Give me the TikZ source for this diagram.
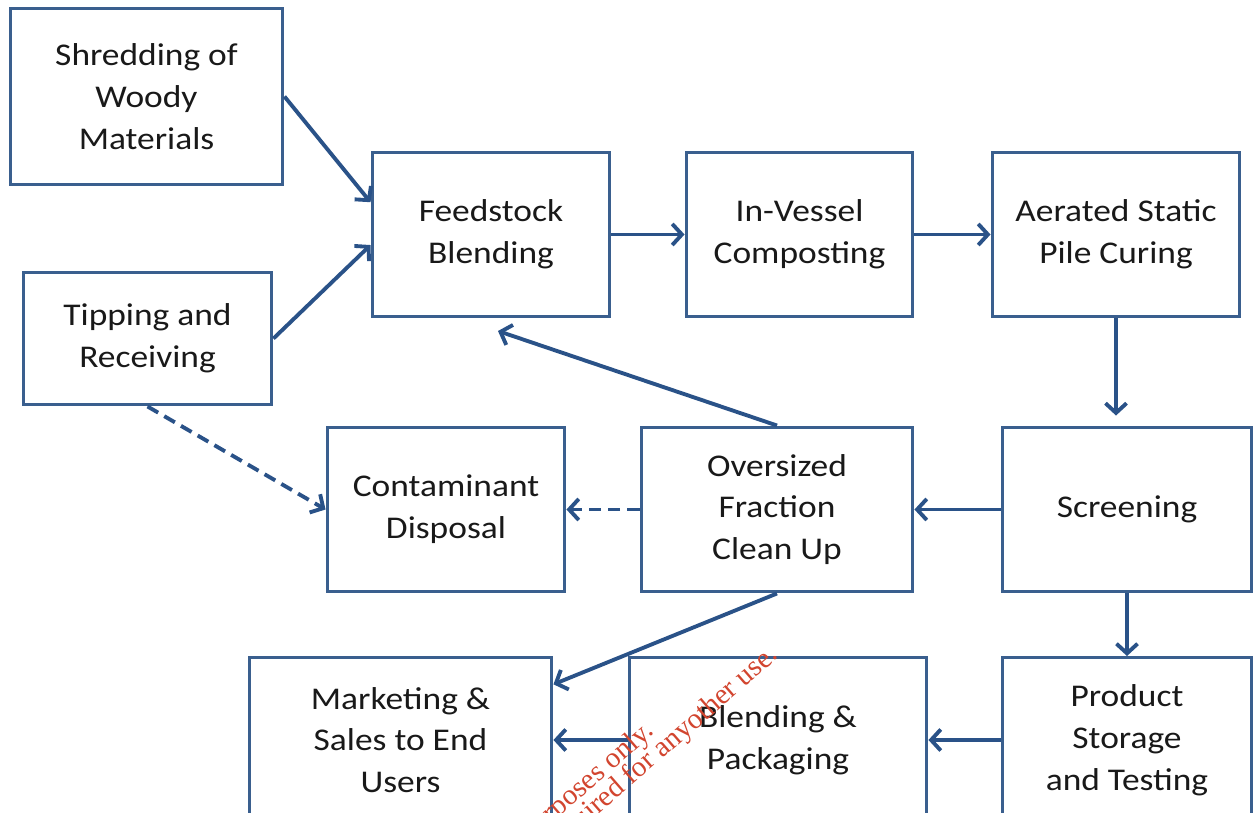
\documentclass[tikz,border=0pt]{standalone}
\usepackage{fontspec}
\setmainfont{Carlito}[FakeStretch=1.12]
\newfontfamily\markfont{Liberation Serif}
\usetikzlibrary{arrows.meta}

\definecolor{boxblue}{HTML}{3A5F8E}
\definecolor{arrowblue}{HTML}{2A5288}
\definecolor{markred}{HTML}{D2452F}

\tikzset{
  box/.style={draw=boxblue, line width=1.7pt, fill=white, align=center,
    inner sep=0pt, minimum height=3.3cm, text=black!90,
    font=\fontsize{18}{23.8}\selectfont},
  flow/.style={draw=arrowblue, line width=2.2pt,
    -{Straight Barb[length=5.5pt,width=12pt]}},
  dashflow/.style={flow, dash pattern=on 7pt off 4pt},
  stamp/.style={rotate=41, anchor=base east, text=markred,
    font=\markfont\fontsize{16.5}{18}\selectfont}
}

\begin{document}
\begin{tikzpicture}[x=0.02cm, y=-0.02cm]
    \useasboundingbox (0,0) rectangle (1258,813);

    % Top row
    \node[box, minimum width=5.46cm, minimum height=3.54cm] (shred) at (146.5,96.5) {\raisebox{4pt}{\parbox{5cm}{\centering Shredding of\\Woody\\Materials}}};
    \node[box, minimum width=4.98cm, minimum height=2.66cm] (tip) at (147.5,338.5) {Tipping and\\Receiving};
    \node[box, minimum width=4.76cm] (feed) at (491,234.5) {Feedstock\\Blending};
    \node[box, minimum width=4.54cm] (vessel) at (799.5,234.5) {In-Vessel\\Composting};
    \node[box, minimum width=4.96cm] (curing) at (1116,234.5) {Aerated Static\\Pile Curing};

    % Middle row
    \node[box, minimum width=4.76cm] (contam) at (446,509.5) {Contaminant\\Disposal};
    \node[box, minimum width=5.44cm] (oversize) at (777,509.5) {Oversized\\Fraction\\Clean Up};
    \node[box, minimum width=5.00cm] (screen) at (1127,509.5) {Screening};

    % Bottom row (cut at the lower edge)
    \node[box, minimum width=6.06cm] (market) at (400.5,740) {Marketing \&\\Sales to End\\Users};
    \node[box, minimum width=5.96cm] (pack) at (778,740) {Blending \&\\Packaging};
    \node[box, minimum width=5.00cm] (store) at (1127,740) {\raisebox{8pt}{\parbox{5cm}{\centering Product\\Storage\\and Testing}}};

    % Main flow
    \draw[flow] (shred.east) -- (feed.165);
    \draw[flow] (tip.east) -- (feed.185);
    \draw[flow] (feed.east) -- (vessel.west);
    \draw[flow] (vessel.east) -- (curing.west);
    \draw[flow, shorten >=10*0.02cm] (curing.south) -- (curing.south |- screen.north);
    \draw[flow] (screen.west) -- (oversize.east);
    \draw[flow] (screen.south) -- (store.north);
    \draw[flow] (store.west) -- (pack.east);
    \draw[flow] (pack.west) -- (market.east);

    % Oversized material back to blending and out to market
    \coordinate (feedin) at (498,331);
    \draw[flow] (oversize.north) -- (feedin);
    \draw[flow] (oversize.south) -- (market.20);

    % Contaminants
    \draw[dashflow] (tip.south) -- (contam.west);
    \draw[dashflow] (oversize.west) -- (contam.east);

    % Watermark
    \node[stamp] (stamp1) at (660,729) {rposes only.};
    \node[stamp] (stamp2) at (784,653) {uired for anyother use.};
\end{tikzpicture}
\end{document}
